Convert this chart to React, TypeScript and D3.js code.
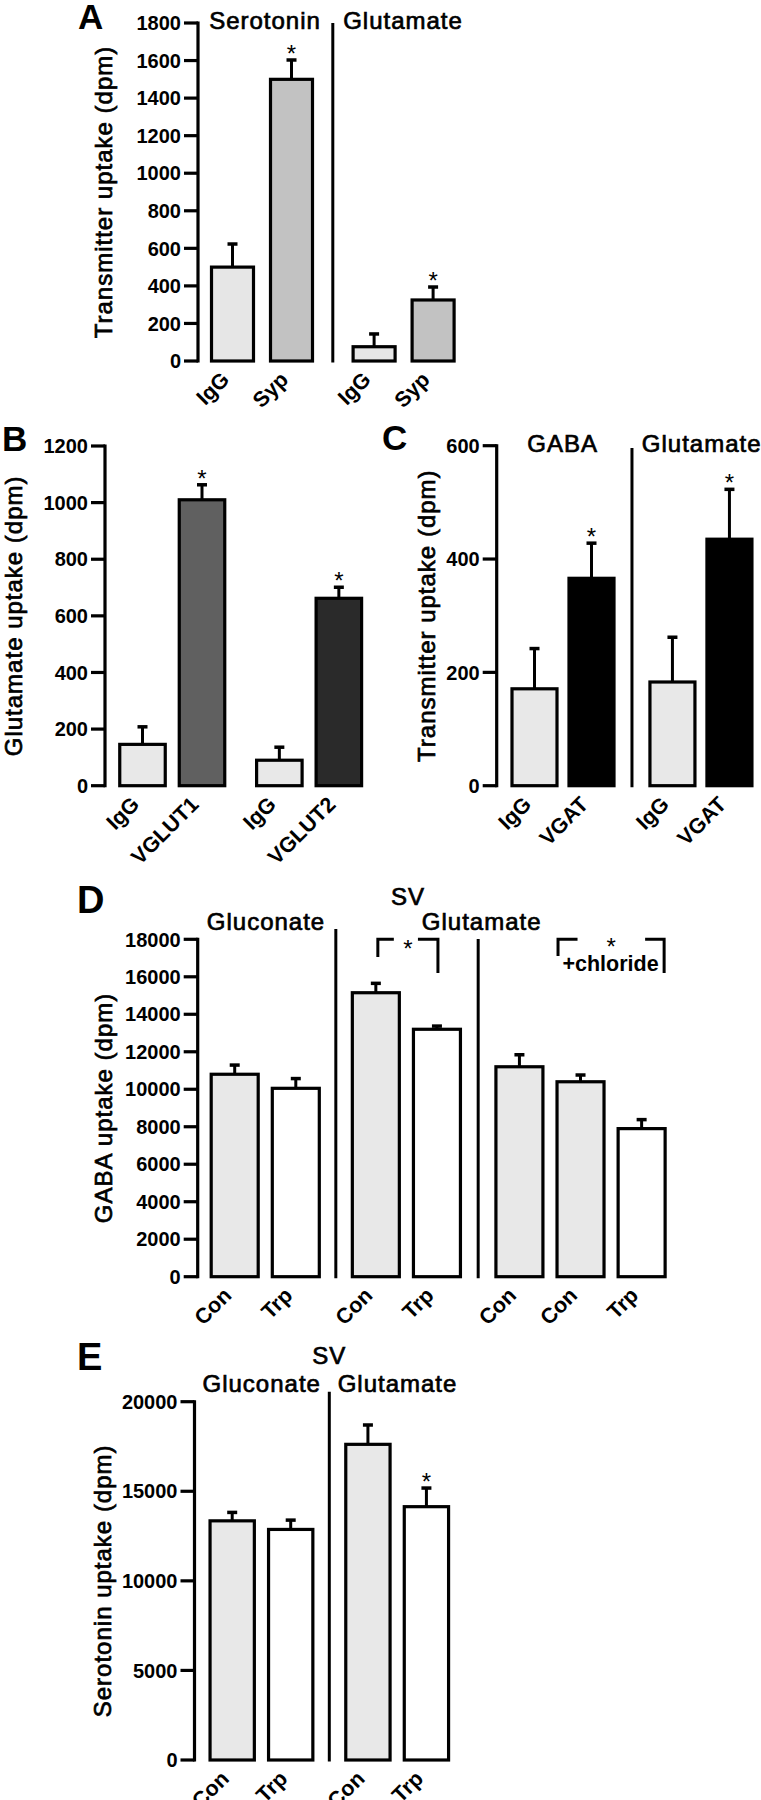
import React from 'react';
import * as d3 from 'd3';

// ---------- DATA ----------
const aLabels = ['IgG', 'Syp', 'IgG', 'Syp'];
const aValues = [500, 1500, 76, 325];
const aErrors = [123, 103, 68, 69];
const aStars = [false, true, false, true];
const aTicks = d3.range(0, 1801, 200);

const bLabels = ['IgG', 'VGLUT1', 'IgG', 'VGLUT2'];
const bValues = [146, 1010, 90, 662];
const bErrors = [62, 53, 46, 39];
const bStars = [false, true, false, true];
const bTicks = d3.range(0, 1201, 200);

const cLabels = ['IgG', 'VGAT', 'IgG', 'VGAT'];
const cValues = [171, 366, 183, 435];
const cErrors = [71, 62, 79, 88];
const cStars = [false, true, false, true];
const cTicks = [0, 200, 400, 600];

const dLabels = ['Con', 'Trp', 'Con', 'Trp', 'Con', 'Con', 'Trp'];
const dValues = [10800, 10050, 15150, 13200, 11200, 10400, 7900];
const dErrors = [490, 520, 500, 170, 640, 360, 480];
const dStars = [false, false, false, false, false, false, false];
const dTicks = d3.range(0, 18001, 2000);

const eLabels = ['Con', 'Trp', 'Con', 'Trp'];
const eValues = [13350, 12870, 17620, 14140];
const eErrors = [470, 520, 1080, 1040];
const eStars = [false, false, false, true];
const eTicks = d3.range(0, 20001, 5000);

// ---------- LAYOUT ----------
const FONT = '"Liberation Sans", Arial, Helvetica, sans-serif';

const panels = [
  {
    id: 'A', labels: aLabels, values: aValues, errors: aErrors, stars: aStars, ticks: aTicks,
    max: 1800, y0: 361, yTop: 23, axisX: 198, start: 232.5, unit: 59, slots: [0, 1, 2.4, 3.4],
    barW: 42, fills: ['#e6e6e6', '#c2c2c2', '#e6e6e6', '#c2c2c2'],
    seps: [{ s: 1.7, top: 23 }], title: 'Transmitter uptake (dpm)', titleX: 111.7,
    letter: { t: 'A', x: 78, y: 29, size: 35 },
    headers: [{ t: 'Serotonin', x: 265, y: 29 }, { t: 'Glutamate', x: 403, y: 29 }],
  },
  {
    id: 'B', labels: bLabels, values: bValues, errors: bErrors, stars: bStars, ticks: bTicks,
    max: 1200, y0: 785.7, yTop: 446, axisX: 105, start: 142.5, unit: 59.5, slots: [0, 1, 2.3, 3.3],
    barW: 45.5, fills: ['#e8e8e8', '#606060', '#e8e8e8', '#2a2a2a'],
    seps: [], title: 'Glutamate uptake (dpm)', titleX: 21.7,
    letter: { t: 'B', x: 2, y: 451, size: 35 },
    headers: [],
  },
  {
    id: 'C', labels: cLabels, values: cValues, errors: cErrors, stars: cStars, ticks: cTicks,
    max: 600, y0: 785.7, yTop: 445.7, axisX: 496.7, start: 534.5, unit: 57, slots: [0, 1, 2.42, 3.42],
    barW: 45, fills: ['#e8e8e8', '#000000', '#e8e8e8', '#000000'],
    seps: [{ s: 1.71, top: 448 }], title: 'Transmitter uptake (dpm)', titleX: 435,
    letter: { t: 'C', x: 382, y: 450, size: 35 },
    headers: [{ t: 'GABA', x: 562.7, y: 451.5 }, { t: 'Glutamate', x: 701.7, y: 451.5 }],
  },
  {
    id: 'D', labels: dLabels, values: dValues, errors: dErrors, stars: dStars, ticks: dTicks,
    max: 18000, y0: 1276.7, yTop: 939.3, axisX: 197.7, start: 234.7, unit: 61.1,
    slots: [0, 1, 2.31, 3.31, 4.66, 5.66, 6.66],
    barW: 47, fills: ['#e8e8e8', '#ffffff', '#e8e8e8', '#ffffff', '#e8e8e8', '#e8e8e8', '#ffffff'],
    seps: [{ s: 1.655, top: 929 }, { s: 3.985, top: 939 }], title: 'GABA uptake (dpm)', titleX: 111.7,
    letter: { t: 'D', x: 77, y: 913, size: 38 },
    headers: [{ t: 'SV', x: 408, y: 905 }, { t: 'Gluconate', x: 266, y: 930 }, { t: 'Glutamate', x: 481.7, y: 930 }],
  },
  {
    id: 'E', labels: eLabels, values: eValues, errors: eErrors, stars: eStars, ticks: eTicks,
    max: 20000, y0: 1760, yTop: 1401.7, axisX: 194.5, start: 232.2, unit: 58.5, slots: [0, 1, 2.32, 3.32],
    barW: 44.3, fills: ['#e8e8e8', '#ffffff', '#e8e8e8', '#ffffff'],
    seps: [{ s: 1.66, top: 1391.7 }], title: 'Serotonin uptake (dpm)', titleX: 111,
    letter: { t: 'E', x: 77, y: 1370, size: 38 },
    headers: [{ t: 'SV', x: 329.3, y: 1364 }, { t: 'Gluconate', x: 261.7, y: 1391.7 }, { t: 'Glutamate', x: 397.5, y: 1391.7 }],
  },
];

function Header({ t, x, y }: any) {
  return (
    <text x={x} y={y} textAnchor="middle" fontSize={24} letterSpacing={1}
      stroke="#000" strokeWidth={0.7} fill="#000">{t}</text>
  );
}

function Panel({ p }: any) {
  const y = d3.scaleLinear().domain([0, p.max]).range([p.y0, p.yTop]);
  const x = d3.scaleLinear().domain([0, 1]).range([p.start, p.start + p.unit]);
  const hw = p.barW / 2;
  const midY = (y(0) + y(p.max)) / 2;
  return (
    <g>
      <text x={p.letter.x} y={p.letter.y} fontSize={p.letter.size} fontWeight="bold">{p.letter.t}</text>
      {p.headers.map((h: any, i: number) => <Header key={i} {...h} />)}
      <text transform={`translate(${p.titleX},${midY}) rotate(-90)`} textAnchor="middle"
        fontSize={24} letterSpacing={1} stroke="#000" strokeWidth={0.7}>{p.title}</text>
      {/* axis */}
      <line x1={p.axisX} x2={p.axisX} y1={y(p.max) - 1.5} y2={y(0) + 1.5} stroke="#000" strokeWidth={3.2} />
      {p.ticks.map((t: number) => (
        <g key={t}>
          <line x1={p.axisX - 14} x2={p.axisX} y1={y(t)} y2={y(t)} stroke="#000" strokeWidth={3.2} />
          <text x={p.axisX - 17} y={y(t) + 7.2} textAnchor="end" fontSize={20} fontWeight="bold">{t}</text>
        </g>
      ))}
      {/* separators */}
      {p.seps.map((s: any, i: number) => (
        <line key={i} x1={x(s.s)} x2={x(s.s)} y1={s.top} y2={y(0) + 1.5} stroke="#000" strokeWidth={3} />
      ))}
      {/* bars */}
      {p.values.map((v: number, i: number) => {
        const cx = x(p.slots[i]);
        const top = y(v);
        const et = y(v + p.errors[i]);
        const lx = cx - 2;
        const ly = y(0) + 20;
        return (
          <g key={i}>
            <line x1={cx} x2={cx} y1={top} y2={et} stroke="#000" strokeWidth={3} />
            <line x1={cx - 5} x2={cx + 5} y1={et} y2={et} stroke="#000" strokeWidth={3.5} />
            <rect x={cx - hw} y={top} width={p.barW} height={y(0) - top} fill={p.fills[i]}
              stroke="#000" strokeWidth={3.2} />
            {p.stars[i] && (
              <text x={cx} y={et + 2} textAnchor="middle" fontSize={24}>*</text>
            )}
            <g transform={`translate(${lx},${ly})`}>
              <g transform="rotate(-45)">
                <text x={0} y={0} textAnchor="end" fontSize={21.5} fontWeight="bold">{p.labels[i]}</text>
              </g>
            </g>
          </g>
        );
      })}
    </g>
  );
}

function Brackets() {
  const p = panels[3];
  const x = d3.scaleLinear().domain([0, 1]).range([p.start, p.start + p.unit]);
  const hw = p.barW / 2;
  const yTop = 939.3;
  const l1 = x(p.slots[2]) + 2, r1 = x(p.slots[3]) + 1;
  const l2 = x(p.slots[5]) - hw + 1, r2 = x(p.slots[6]) + hw - 1;
  const sw = 3;
  return (
    <g stroke="#000" strokeWidth={sw} fill="none">
      <polyline points={`${l1},957 ${l1},${yTop} ${l1 + 16},${yTop}`} />
      <polyline points={`${r1 - 20},${yTop} ${r1},${yTop} ${r1},973`} />
      <text x={(l1 + r1) / 2} y={957} textAnchor="middle" fontSize={24} stroke="none" fill="#000">*</text>
      <polyline points={`${l2},956 ${l2},${yTop} ${l2 + 19.5},${yTop}`} />
      <polyline points={`${r2 - 19},${yTop} ${r2},${yTop} ${r2},973`} />
      <text x={(l2 + r2) / 2} y={955} textAnchor="middle" fontSize={24} stroke="none" fill="#000">*</text>
      <text x={(l2 + r2) / 2 - 0.5} y={971} textAnchor="middle" fontSize={21.5} fontWeight="bold"
        stroke="none" fill="#000">+chloride</text>
    </g>
  );
}

export default function App() {
  return (
    <svg width={761} height={1800} viewBox="0 0 761 1800"
      style={{ position: 'absolute', left: 0, top: 0, background: '#fff' }}
      fontFamily={FONT}>
      <rect x={0} y={0} width={761} height={1800} fill="#fff" />
      {panels.map(p => <Panel key={p.id} p={p} />)}
      <Brackets />
    </svg>
  );
}
